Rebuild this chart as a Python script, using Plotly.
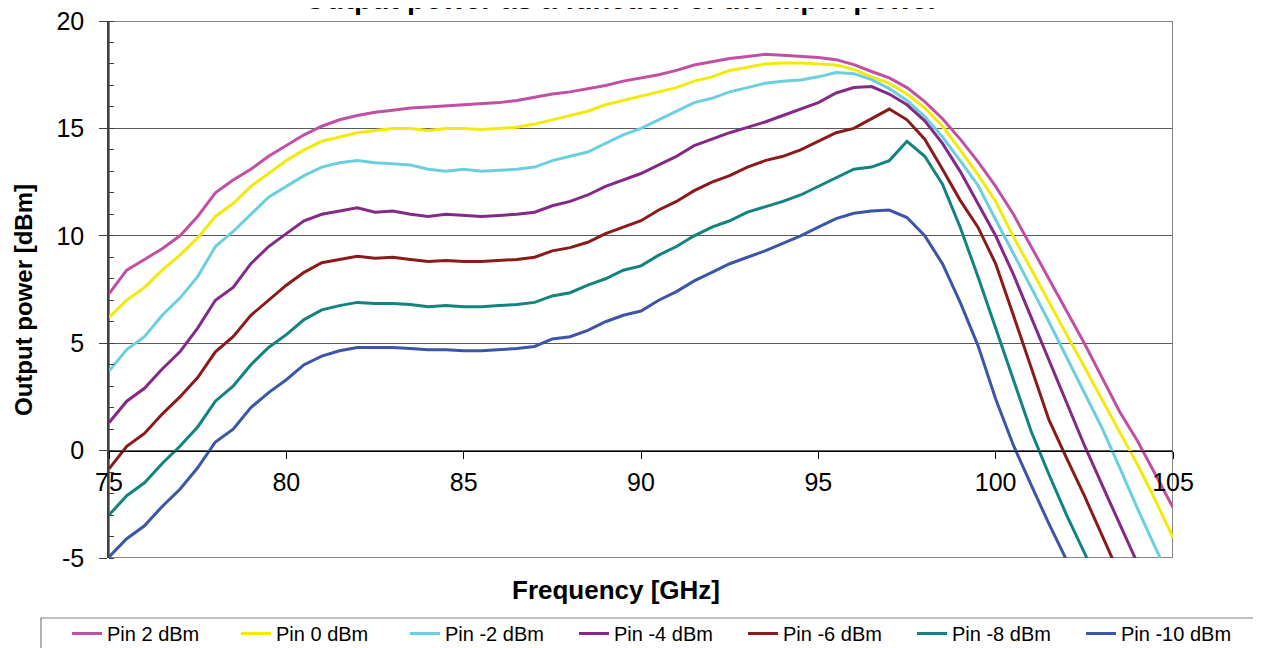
import plotly.graph_objects as go

freq = [75 + 0.5 * i for i in range(61)]

pin_2 = [7.3, 8.4, 8.9, 9.4, 10.0, 10.9, 12.0, 12.6, 13.1, 13.7, 14.2, 14.7, 15.1, 15.4, 15.6, 15.75,
         15.85, 15.95, 16.0, 16.05, 16.1, 16.15, 16.2, 16.3, 16.45, 16.6, 16.7, 16.85, 17.0, 17.2,
         17.35, 17.5, 17.7, 17.95, 18.1, 18.25, 18.35, 18.45, 18.4, 18.35, 18.3, 18.2, 17.97, 17.65,
         17.35, 16.9, 16.25, 15.45, 14.5, 13.45, 12.3, 11.0, 9.5, 8.0, 6.5, 5.0, 3.4, 1.8, 0.45, -1.1, -2.65]
pin_0 = [6.2, 7.0, 7.6, 8.4, 9.1, 9.9, 10.9, 11.5, 12.3, 12.9, 13.5, 14.0, 14.4, 14.6, 14.8, 14.9,
         15.0, 15.0, 14.9, 15.0, 15.0, 14.95, 15.0, 15.05, 15.2, 15.4, 15.6, 15.8, 16.1, 16.3,
         16.5, 16.7, 16.9, 17.2, 17.4, 17.7, 17.85, 18.0, 18.05, 18.05, 18.0, 17.95, 17.75, 17.4,
         17.1, 16.6, 15.95, 15.1, 14.0, 12.85, 11.6, 9.95, 8.45, 6.9, 5.4, 3.9, 2.35, 0.85, -0.65, -2.3, -4.05]
pin_m2 = [3.7, 4.7, 5.3, 6.3, 7.1, 8.1, 9.5, 10.2, 11.0, 11.8, 12.3, 12.8, 13.2, 13.4, 13.5, 13.4,
          13.35, 13.3, 13.1, 13.0, 13.1, 13.0, 13.05, 13.1, 13.2, 13.5, 13.7, 13.9, 14.3, 14.7,
          15.0, 15.4, 15.8, 16.2, 16.4, 16.7, 16.9, 17.1, 17.2, 17.25, 17.4, 17.6, 17.55, 17.27,
          16.85, 16.3, 15.55, 14.6, 13.5, 12.35, 10.75, 9.2, 7.6, 6.0, 4.35, 2.7, 1.05, -0.8, -2.7, -4.5, -6.3]
pin_m4 = [1.3, 2.3, 2.9, 3.8, 4.6, 5.7, 7.0, 7.6, 8.7, 9.5, 10.1, 10.7, 11.0, 11.15, 11.3, 11.1,
          11.15, 11.0, 10.9, 11.0, 10.95, 10.9, 10.95, 11.0, 11.1, 11.4, 11.6, 11.9, 12.3, 12.6,
          12.9, 13.3, 13.7, 14.2, 14.5, 14.8, 15.05, 15.3, 15.6, 15.9, 16.2, 16.65, 16.9, 16.95,
          16.6, 16.1, 15.35, 14.3, 13.0, 11.5, 10.0, 8.2, 6.2, 4.2, 2.2, 0.25, -1.6, -3.4, -5.25, None, None]
pin_m6 = [-0.85, 0.2, 0.8, 1.7, 2.5, 3.4, 4.6, 5.3, 6.3, 7.0, 7.7, 8.3, 8.75, 8.9, 9.05, 8.95,
          9.0, 8.9, 8.8, 8.85, 8.8, 8.8, 8.85, 8.9, 9.0, 9.3, 9.45, 9.7, 10.1, 10.4,
          10.7, 11.2, 11.6, 12.1, 12.5, 12.8, 13.2, 13.5, 13.7, 14.0, 14.4, 14.8, 15.0, 15.45,
          15.9, 15.4, 14.5, 13.1, 11.65, 10.4, 8.7, 6.3, 3.9, 1.44, -0.35, -2.1, -3.95, -5.8, None, None, None]
pin_m8 = [-3.0, -2.1, -1.5, -0.6, 0.2, 1.1, 2.3, 3.0, 4.0, 4.8, 5.4, 6.1, 6.55, 6.75, 6.9, 6.85,
          6.85, 6.8, 6.7, 6.75, 6.7, 6.7, 6.75, 6.8, 6.9, 7.2, 7.35, 7.7, 8.0, 8.4,
          8.6, 9.1, 9.5, 10.0, 10.4, 10.7, 11.1, 11.35, 11.6, 11.9, 12.3, 12.7, 13.1, 13.2,
          13.5, 14.4, 13.7, 12.4, 10.4, 8.1, 5.7, 3.4, 0.9, -1.1, -3.0, -4.75, -6.5, None, None, None, None]
pin_m10 = [-4.95, -4.1, -3.5, -2.6, -1.8, -0.8, 0.4, 1.0, 2.0, 2.7, 3.3, 4.0, 4.4, 4.65, 4.8, 4.8,
           4.8, 4.75, 4.7, 4.7, 4.65, 4.65, 4.7, 4.75, 4.85, 5.2, 5.3, 5.6, 6.0, 6.3,
           6.5, 7.0, 7.4, 7.9, 8.3, 8.7, 9.0, 9.3, 9.65, 10.0, 10.4, 10.8, 11.05, 11.15,
           11.2, 10.85, 10.0, 8.7, 6.9, 4.9, 2.4, 0.25, -1.6, -3.4, -5.1, -7.0, None, None, None, None, None]

series_names = ["Pin 2 dBm", "Pin 0 dBm", "Pin -2 dBm", "Pin -4 dBm", "Pin -6 dBm", "Pin -8 dBm", "Pin -10 dBm"]
series_values = [pin_2, pin_0, pin_m2, pin_m4, pin_m6, pin_m8, pin_m10]
series_colors = ["#C150A3", "#F2EA0A", "#6CCFE0", "#842A86", "#8B1A1A", "#13837F", "#3D55A8"]
series_legend = ["legend", "legend", "legend", "legend", "legend2", "legend2", "legend2"]

x_ticks = [75, 80, 85, 90, 95, 100, 105]
y_ticks = [-5, 0, 5, 10, 15, 20]

FONT = "Arial, Liberation Sans, sans-serif"

# The page shows the figure offset by the browser's 8px body margin.
OFF = 8
# plot area in screen pixels
LS, RS, TS, BS = 109, 1173, 21, 558
FIG_W, FIG_H = 1261, 648
W, H = RS - LS, BS - TS


def px_x(sx):
    return (sx - LS) / W


def px_y(sy):
    return (BS - sy) / H


fig = go.Figure()
for name, vals, col, lg in zip(series_names, series_values, series_colors, series_legend):
    fig.add_trace(go.Scatter(x=freq, y=vals, name=name, mode="lines", legend=lg,
                             line=dict(color=col, width=3), connectgaps=False))

legend_common = dict(orientation="h", yanchor="top", xanchor="left", y=px_y(614),
                     borderwidth=0, font=dict(size=20, family=FONT, color="black"),
                     entrywidth=124, entrywidthmode="pixels", bgcolor="rgba(0,0,0,0)",
                     itemwidth=30)

fig.update_layout(
    width=FIG_W, height=FIG_H,
    margin=dict(l=LS - OFF, r=FIG_W - (RS - OFF), t=TS - OFF, b=FIG_H - (BS - OFF), autoexpand=False),
    paper_bgcolor="white", plot_bgcolor="white",
    font=dict(family=FONT, color="black"),
    showlegend=True,
    legend=dict(x=px_x(67), **legend_common),
    legend2=dict(x=px_x(67 + 4 * 169), **legend_common),
    xaxis=dict(range=[75, 105], tickvals=x_ticks, ticktext=[str(t) for t in x_ticks],
               anchor="free", position=0.2, showline=True, linecolor="black", linewidth=1,
               ticks="outside", ticklen=7, tickcolor="black", tickfont=dict(size=25),
               showgrid=False, zeroline=False, ticklabelstandoff=2, ticklabeloverflow="allow"),
    yaxis=dict(range=[-5, 20], tickvals=y_ticks, ticktext=[str(t) for t in y_ticks],
               showline=True, linecolor="#404040", linewidth=1.5,
               ticks="outside", ticklen=8, tickcolor="#404040", tickfont=dict(size=25),
               showgrid=True, gridcolor="#5a5a5a", gridwidth=1, zeroline=False,
               minor=dict(ticks="inside", ticklen=5, dtick=1, tick0=0, tickcolor="#404040", showgrid=False),
               ticklabelstandoff=10, ticklabeloverflow="allow"),
    shapes=[
        dict(type="rect", xref="x", yref="y", x0=75, x1=105, y0=-5, y1=20,
             line=dict(color="#868686", width=2), layer="between"),
        dict(type="rect", xref="paper", yref="paper", x0=px_x(41), x1=px_x(1275),
             y0=px_y(618), y1=px_y(660), line=dict(color="#808080", width=1.2),
             fillcolor="rgba(0,0,0,0)", layer="below"),
    ],
    annotations=[
        dict(text="<b>Output power as a function of the input power</b>", x=px_x(621), y=px_y(-1.5),
             xref="paper", yref="paper", xanchor="center", yanchor="middle", showarrow=False,
             font=dict(size=29, family=FONT)),
        dict(text="<b>Frequency [GHz]</b>", x=px_x(616), y=px_y(590), xref="paper", yref="paper",
             xanchor="center", yanchor="middle", showarrow=False, font=dict(size=26, family=FONT)),
        dict(text="<b>Output power [dBm]</b>", x=px_x(23), y=px_y(300), xref="paper", yref="paper",
             xanchor="center", yanchor="middle", showarrow=False, textangle=-90,
             font=dict(size=24, family=FONT)),
    ],
)

fig.write_html("out.html")
